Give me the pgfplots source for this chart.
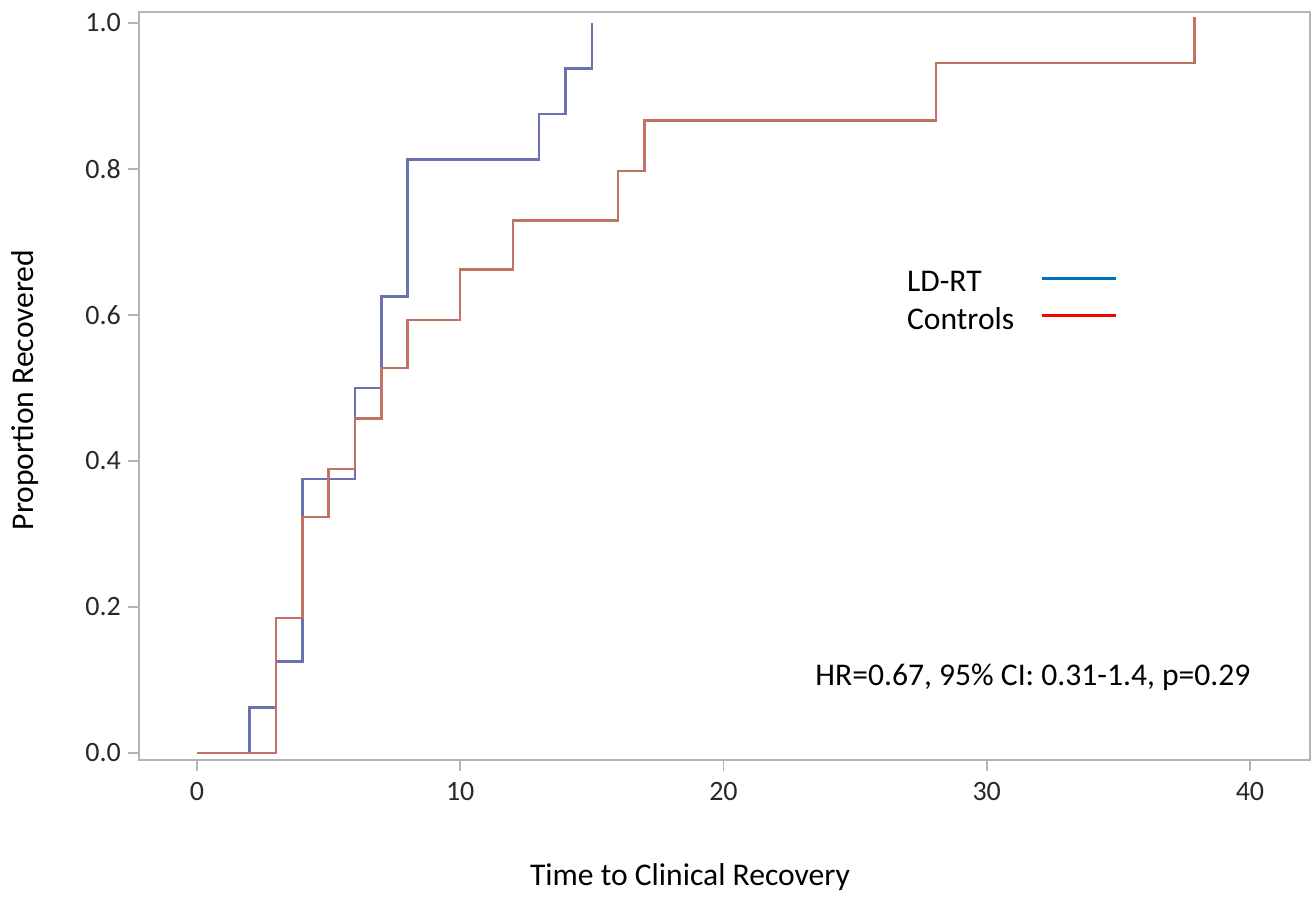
\documentclass[border=0pt]{standalone}
\usepackage{fontspec}
\setmainfont{Carlito}
\usepackage{pgfplots}
\pgfplotsset{compat=1.18}
\definecolor{kmblue}{RGB}{106,114,178}
\definecolor{kmred}{RGB}{192,114,100}
\definecolor{axgray}{RGB}{180,180,180}
\definecolor{legblue}{RGB}{0,112,192}
\definecolor{legred}{RGB}{255,0,0}
\definecolor{ticktext}{RGB}{40,40,40}
\begin{document}
\begin{tikzpicture}
\begin{axis}[
  scale only axis,
  width=585.5pt, height=374.15pt,
  xmin=-2.203, xmax=42.28,
  ymin=-0.0096, ymax=1.0151,
  xtick={0,10,20,30,40},
  ytick={0,0.2,0.4,0.6,0.8,1.0},
  yticklabel style={/pgf/number format/.cd, fixed, fixed zerofill, precision=1},
  /pgf/number format/assume math mode=true,
  axis line style={axgray, line width=1pt},
  tick style={axgray, line width=0.8pt},
  tick align=outside,
  major tick length=5.5pt,
  xtick pos=left, ytick pos=left,
  tick label style={font=\fontsize{14}{16}\selectfont, text=ticktext},
  xticklabel style={yshift=-2pt},
  label style={font=\fontsize{15.8}{18}\selectfont},
  xlabel={Time to Clinical Recovery},
  ylabel={Proportion Recovered},
  xlabel style={at={(axis description cs:0.4705,-0.16705)}, anchor=base},
  ylabel style={at={(axis description cs:-0.09735,0.4945)}, anchor=center},
  clip=false,
]
\addplot[kmblue, line width=1.25pt, const plot, mark=none] coordinates {
  (0,0) (2,0.0625) (3,0.125) (4,0.375) (6,0.5) (7,0.625) (8,0.8125)
  (13,0.875) (14,0.9375) (15,1.0)
};
\addplot[kmred, line width=1.25pt, const plot, mark=none] coordinates {
  (0,0) (3,0.185) (4,0.323) (5,0.389) (6,0.458) (7,0.527) (8,0.593)
  (10,0.662) (12,0.729) (16,0.797) (17,0.866) (28.07,0.945) (37.9,1.008)
};
\node[anchor=base west, inner sep=0pt, font=\fontsize{15.8}{18}\selectfont] at (axis cs:26.96,0.632) {LD-RT};
\node[anchor=base west, inner sep=0pt, font=\fontsize{15.8}{18}\selectfont] at (axis cs:26.96,0.5795) {Controls};
\draw[legblue, line width=1.5pt] (axis cs:32.09,0.6504) -- (axis cs:34.90,0.6504);
\draw[legred, line width=1.5pt] (axis cs:32.09,0.5997) -- (axis cs:34.90,0.5997);
\node[anchor=base west, inner sep=0pt, font=\fontsize{15.8}{18}\selectfont] at (axis cs:23.48,0.0918) {HR=0.67, 95\% CI: 0.31-1.4, p=0.29};
\end{axis}
\path ([xshift=-69.5pt,yshift=-68.15pt]current axis.south west) rectangle ([xshift=2pt,yshift=5.85pt]current axis.north east);
\end{tikzpicture}
\end{document}
